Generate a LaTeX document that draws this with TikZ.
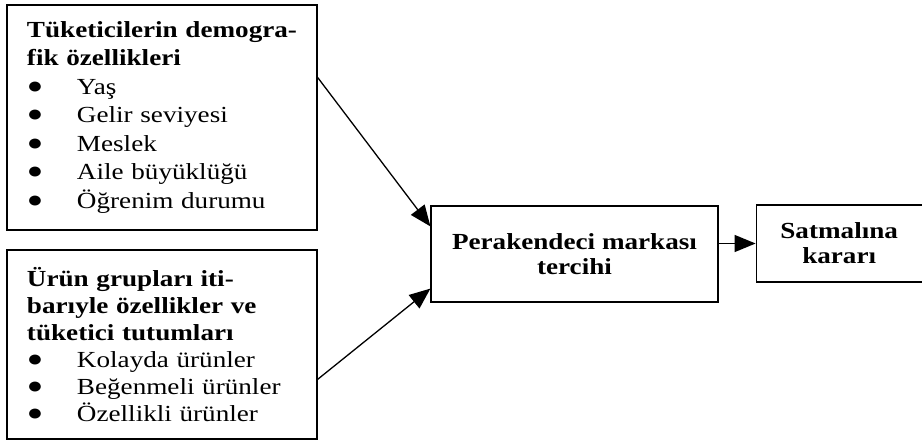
\documentclass[tikz,border=0pt]{standalone}
\usepackage{fontspec}
\setmainfont{Liberation Serif}[FakeStretch=1.18]
\usetikzlibrary{positioning,arrows.meta,calc}
\newcommand\itm[1]{\makebox[50pt][l]{\raisebox{1pt}{\fontsize{23}{0}\selectfont ●}}#1}

\begin{document}
\begin{tikzpicture}[
  x=1pt, y=-1pt,
  factor/.style={
    draw, line width=1.2pt,
    minimum width=310pt, text width=270pt,
    inner xsep=20pt, inner ysep=0pt, align=left
  },
  result/.style={
    draw, line width=1.2pt, align=center, inner sep=0pt,
    font=\bfseries\fontsize{23}{25}\selectfont
  },
  arr/.style={-{Triangle[length=21pt,width=17pt]}, line width=1.3pt},
  node distance=37pt
]
  \useasboundingbox (0,0) rectangle (922,441);

  % Left column: influencing factors
  \node[factor, minimum height=225pt, font=\fontsize{23}{28.5}\selectfont]
    (demo) at (162,117.5) {%
      \textbf{Tüketicilerin demogra-}\\
      \textbf{fik özellikleri}\\
      \itm{Yaş}\\
      \itm{Gelir seviyesi}\\
      \itm{Meslek}\\
      \itm{Aile büyüklüğü}\\
      \itm{Öğrenim durumu}};
  \node[factor, minimum height=189pt, font=\fontsize{23}{27}\selectfont]
    (prod) at (162,344.5) {%
      \textbf{Ürün grupları iti-}\\
      \textbf{barıyle özellikler ve}\\
      \textbf{tüketici tutumları}\\
      \itm{Kolayda ürünler}\\
      \itm{Beğenmeli ürünler}\\
      \itm{Özellikli ürünler}};

  % Right: preference and decision
  \node[result, minimum width=287pt, minimum height=96pt]
    (pref) at (574.5,254) {Perakendeci markası\\tercihi};
  \node[result, minimum width=166pt, minimum height=77pt,
    right=of pref, yshift=10.5pt] (buy) {Satmalına\\kararı};

  % Arrows
  \draw[arr] ($(demo.north east)+(0,73)$) -- ($(pref.north west)+(0,21)$);
  \draw[arr] ($(prod.north east)+(0,130)$) -- ($(pref.south west)+(0,-14)$);
  \draw[arr] (pref.east |- buy.west) -- (buy.west);

\end{tikzpicture}
\end{document}
